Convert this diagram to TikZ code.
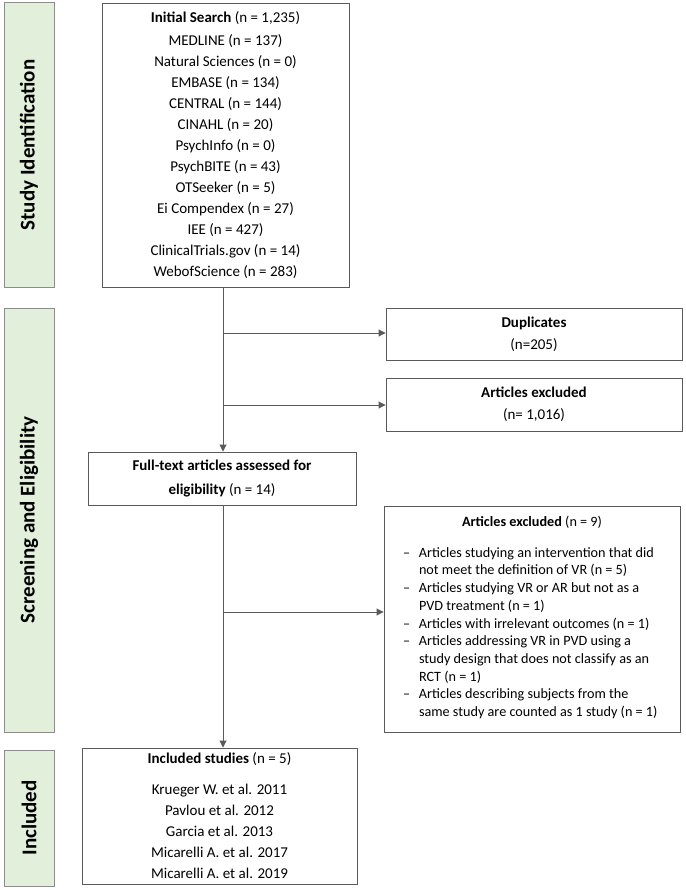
\documentclass[tikz,border=0pt]{standalone}
\usepackage{fontspec}
\setmainfont{Carlito}
\usetikzlibrary{arrows.meta,positioning}
\definecolor{phasegreen}{HTML}{E2EFDA}
\definecolor{phaseline}{HTML}{8C8C8C}
\definecolor{boxline}{HTML}{5A5A5A}
\tikzset{
  phase/.style={draw=phaseline, fill=phasegreen, line width=1pt, rotate=90,
    minimum height=50pt, inner sep=0pt, font=\fontsize{21}{25}\selectfont\bfseries},
  box/.style={draw=boxline, line width=0.9pt, inner sep=0pt, align=center,
    font=\fontsize{15}{21}\selectfont},
  flow/.style={draw=boxline, line width=0.9pt, -{Triangle[width=7pt,length=7pt]}},
}
\begin{document}
\begin{tikzpicture}[x=1pt,y=-1pt]
\useasboundingbox (0,0) rectangle (685,890);
% phase bands
\node[phase, minimum width=284pt] (phaseid) at (29,145) {Study Identification};
\node[phase, minimum width=424pt] (phasescr) at (29,520) {Screening and Eligibility};
\node[phase, minimum width=136pt] (phaseinc) at (29,818) {Included};
% boxes
\node[box, minimum width=247pt, minimum height=284pt] (search) at (225.5,145)
  {\textbf{Initial Search} (n = 1,235)\\[2pt]
   MEDLINE (n = 137)\\ Natural Sciences (n = 0)\\ EMBASE (n = 134)\\
   CENTRAL (n = 144)\\ CINAHL (n = 20)\\ PsychInfo (n = 0)\\
   PsychBITE (n = 43)\\ OTSeeker (n = 5)\\ Ei Compendex (n = 27)\\
   IEE (n = 427)\\ ClinicalTrials.gov (n = 14)\\ WebofScience (n = 283)};
\node[box, minimum width=296pt, minimum height=52pt,
  font=\fontsize{15}{22}\selectfont] (dup) at (534,334)
  {\textbf{Duplicates}\\(n=205)};
\node[box, minimum width=296pt, minimum height=53pt,
  font=\fontsize{15}{22}\selectfont] (excl) at (534,404.5)
  {\textbf{Articles excluded}\\(n= 1,016)};
\node[box, minimum width=268pt, minimum height=53pt,
  font=\fontsize{15}{24}\selectfont] (full) at (222,478.5)
  {\textbf{Full-text articles assessed for}\\\textbf{eligibility} (n = 14)};
\node[box, minimum width=296pt, minimum height=226pt,
  font=\fontsize{14.2}{17.7}\selectfont] (nine) at (532,619)
  {\textbf{Articles excluded} (n = 9)\\[13pt]
   \begin{tabular}[t]{@{\hspace{11pt}}p{16pt}@{}p{253pt}@{}}
   -- & Articles studying an intervention that did\newline not meet the definition of VR (n = 5)\\
   -- & Articles studying VR or AR but not as a\newline PVD treatment (n = 1)\\
   -- & Articles with irrelevant outcomes (n = 1)\\
   -- & Articles addressing VR in PVD using a\newline study design that does not classify as an\newline RCT (n = 1)\\
   -- & Articles describing subjects from the\newline same study are counted as 1 study (n = 1)
   \end{tabular}};
\node[box, minimum width=275pt, minimum height=136pt] (studies) at (219.5,816)
  {\textbf{Included studies} (n = 5)\\[10pt]
   Krueger W. et al. 2011\\ Pavlou et al. 2012\\ Garcia et al. 2013\\
   Micarelli A. et al. 2017\\ Micarelli A. et al. 2019};
% connectors
\coordinate (trunk) at (223,0);
\coordinate (dupfork) at (223,333);
\coordinate (exfork) at (223,405);
\coordinate (ninefork) at (223,612);
\draw[flow] (search.south -| trunk) -- (full.north -| trunk);
\draw[flow] (dupfork) -- (dup.west |- dupfork);
\draw[flow] (exfork) -- (excl.west |- exfork);
\draw[flow] (full.south -| trunk) -- (studies.north -| trunk);
\draw[flow] (ninefork) -- (nine.west |- ninefork);
\end{tikzpicture}
\end{document}
